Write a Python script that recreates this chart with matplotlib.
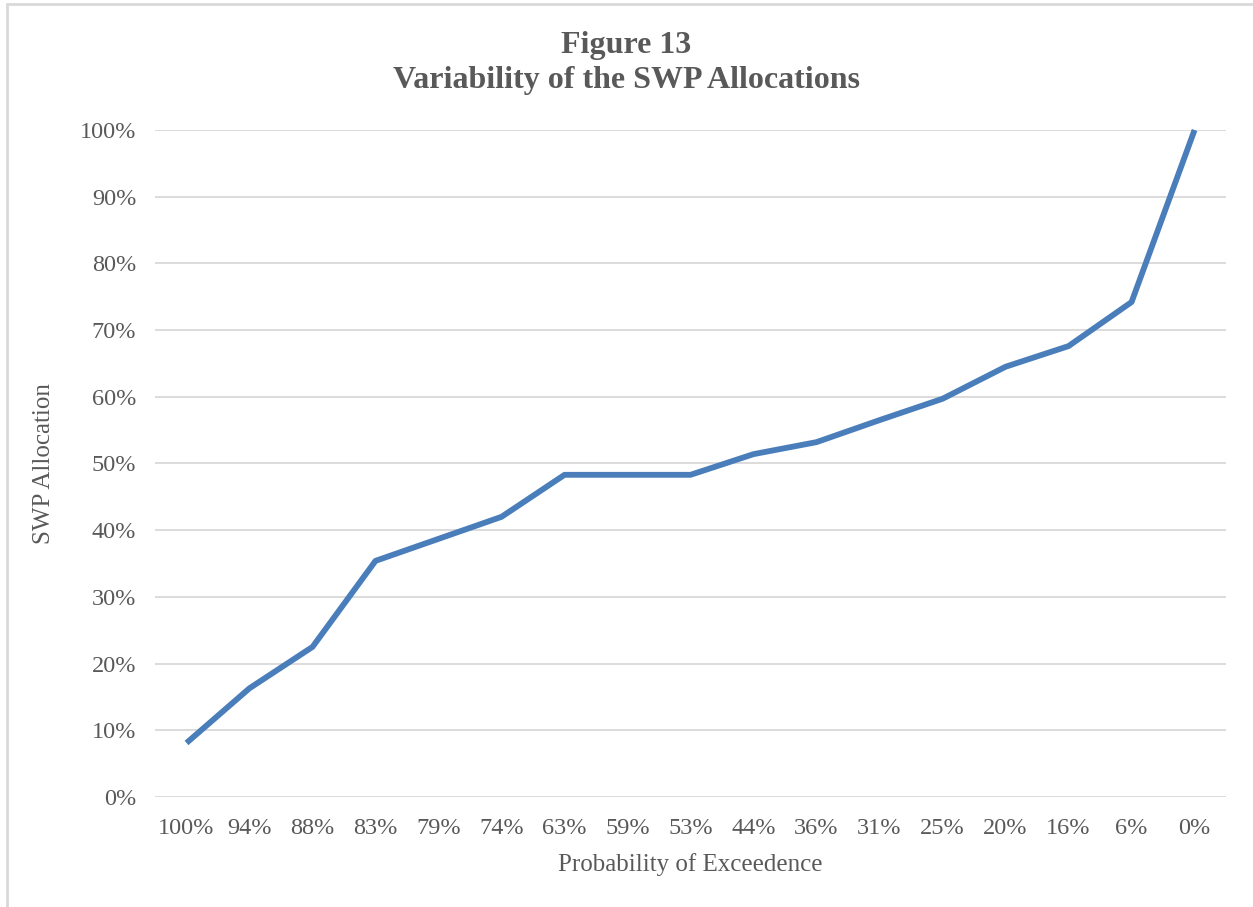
import matplotlib.pyplot as plt
from matplotlib.patches import Rectangle

# Exceedence probabilities (x categories) and SWP allocation (fraction)
exceedence = ['100%', '94%', '88%', '83%', '79%', '74%', '63%', '59%', '53%',
              '44%', '36%', '31%', '25%', '20%', '16%', '6%', '0%']
allocation = [0.081, 0.163, 0.225, 0.354, 0.387, 0.420, 0.483, 0.483, 0.483,
              0.514, 0.532, 0.565, 0.597, 0.645, 0.676, 0.742, 1.0]
yticks = [0, 0.1, 0.2, 0.3, 0.4, 0.5, 0.6, 0.7, 0.8, 0.9, 1.0]

plt.rcParams['font.family'] = ['Liberation Serif', 'DejaVu Serif']
text_col = '#595959'

fig = plt.figure(figsize=(12.53, 9.07), dpi=100)
ax = fig.add_axes([0.1237, 0.1213, 0.8548, 0.7354])

x = list(range(len(exceedence)))
ax.plot(x, allocation, color='#4a7ebb', linewidth=4.2, solid_capstyle='butt',
        solid_joinstyle='round', clip_on=False, zorder=3)

ax.set_xlim(-0.5, len(exceedence) - 0.5)
ax.set_ylim(0, 1)
ax.set_yticks(yticks)
ax.set_yticklabels([f'{int(round(v * 100))}%' for v in yticks])
ax.set_xticks(x)
ax.set_xticklabels(exceedence)
ax.tick_params(length=0, labelsize=17.5, colors=text_col)
ax.tick_params(axis='y', pad=13.5)
ax.tick_params(axis='x', pad=15)
ax.grid(axis='y', color='#d9d9d9', linewidth=1.3)
ax.set_axisbelow(True)
for s in ax.spines.values():
    s.set_visible(False)

ax.set_xlabel('Probability of Exceedence', fontsize=18, color=text_col, labelpad=10)
ax.set_ylabel('SWP Allocation', fontsize=18, color=text_col, labelpad=18)

fig.text(0.5, 0.9305, 'Figure 13\nVariability of the SWP Allocations',
         ha='center', va='center', fontsize=23, fontweight='bold',
         color=text_col, linespacing=1.28)

# light chart-area border
fig.patches.append(Rectangle((7 / 1253, -0.1), 1.2, 1.1 - 4 / 907,
                             transform=fig.transFigure, fill=False,
                             edgecolor='#d9d9d9', linewidth=2))

fig.savefig('out.png', dpi=100)
